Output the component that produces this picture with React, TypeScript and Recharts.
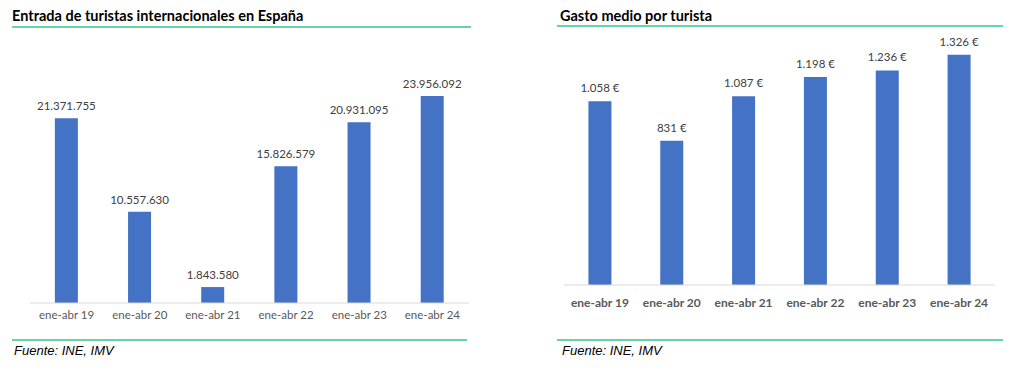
import { BarChart, Bar, XAxis, YAxis, LabelList } from "recharts";

const categories = [
  "ene-abr 19",
  "ene-abr 20",
  "ene-abr 21",
  "ene-abr 22",
  "ene-abr 23",
  "ene-abr 24",
];
const turistas = [21371755, 10557630, 1843580, 15826579, 20931095, 23956092];
const gasto = [1058, 831, 1087, 1198, 1236, 1326];

const turistasData = categories.map((name, i) => ({ name, value: turistas[i] }));
const gastoData = categories.map((name, i) => ({ name, value: gasto[i] }));

const BLUE = "#4472C4";
const GREEN = "#66D3A8";
const FONT = "Lato, 'Open Sans', sans-serif";

// miles con punto, también para 4 cifras (1.058)
function dots(v: number) {
  return String(v).replace(/\B(?=(\d{3})+(?!\d))/g, ".");
}

// etiqueta encima de la barra, sin ajuste de ancho
function topLabel(fmt: (v: number) => string, gap: number) {
  return (props: any) => {
    const { x, y, width, value } = props;
    return (
      <text
        x={Number(x) + Number(width) / 2}
        y={Number(y) - gap}
        textAnchor="middle"
        fill="#404040"
        fontSize={11.5}
        fontFamily={FONT}
      >
        {fmt(Number(value))}
      </text>
    );
  };
}

function Rule({ left, top, width }: { left: number; top: number; width: number }) {
  return (
    <div
      style={{
        position: "absolute",
        left,
        top,
        width,
        height: 2,
        background: GREEN,
      }}
    />
  );
}

function Title({ left, text }: { left: number; text: string }) {
  return (
    <div
      style={{
        position: "absolute",
        left,
        top: 7,
        fontFamily: FONT,
        fontWeight: 700,
        fontSize: 14.5,
        color: "#000",
        whiteSpace: "nowrap",
      }}
    >
      {text}
    </div>
  );
}

function Source({ left }: { left: number }) {
  return (
    <div
      style={{
        position: "absolute",
        left,
        top: 343,
        fontFamily: "'Liberation Sans', Arial, sans-serif",
        fontStyle: "italic",
        fontSize: 13,
        color: "#000",
      }}
    >
      Fuente: INE, IMV
    </div>
  );
}

export default function App() {
  return (
    <div
      style={{
        position: "absolute",
        left: 0,
        top: 0,
        width: 1024,
        height: 373,
        background: "#fff",
        overflow: "hidden",
      }}
    >
      <Title left={12} text="Entrada de turistas internacionales en España" />
      <Rule left={12} top={26} width={459} />

      <div style={{ position: "absolute", left: 0, top: 0 }}>
        <BarChart
          width={480}
          height={373}
          data={turistasData}
          margin={{ top: 87, right: 11, left: 30, bottom: 40 }}
          barCategoryGap="34%"
        >
          <XAxis
            dataKey="name"
            height={30}
            tickLine={false}
            axisLine={{ stroke: "#D9D9D9" }}
            tick={{ fill: "#595959", fontSize: 11.5, fontFamily: FONT }}
            interval={0}
          />
          <YAxis hide domain={[0, 25000000]} />
          <Bar dataKey="value" fill={BLUE} isAnimationActive={false}>
            <LabelList dataKey="value" content={topLabel(dots, 8)} />
          </Bar>
        </BarChart>
      </div>

      <Rule left={12} top={339} width={455} />
      <Source left={14} />

      <Title left={560} text="Gasto medio por turista" />
      <Rule left={557} top={25} width={446} />

      <div style={{ position: "absolute", left: 534, top: 0 }}>
        <BarChart
          width={490}
          height={373}
          data={gastoData}
          margin={{ top: 42, right: 29, left: 30, bottom: 58 }}
          barCategoryGap="34%"
        >
          <XAxis
            dataKey="name"
            height={30}
            tickLine={false}
            axisLine={{ stroke: "#D9D9D9" }}
            tick={{ fill: "#595959", fontSize: 12, fontWeight: 700, fontFamily: FONT }}
            tickMargin={7}
            interval={0}
          />
          <YAxis hide domain={[0, 1400]} />
          <Bar dataKey="value" fill={BLUE} isAnimationActive={false}>
            <LabelList
              dataKey="value"
              content={topLabel((v) => dots(v) + " €", 9)}
            />
          </Bar>
        </BarChart>
      </div>

      <Rule left={557} top={339} width={446} />
      <Source left={562} />
    </div>
  );
}
